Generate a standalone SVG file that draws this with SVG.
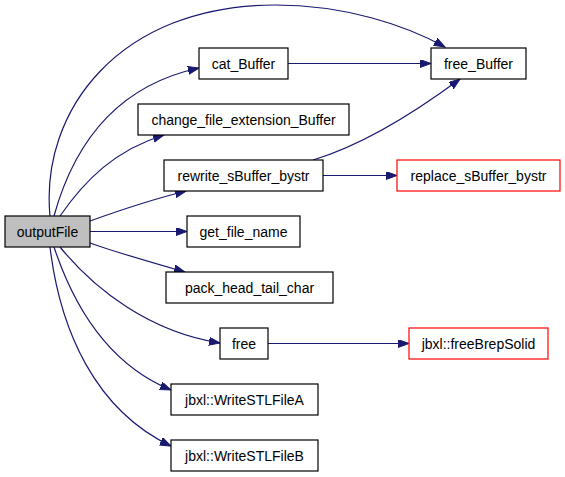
<svg xmlns="http://www.w3.org/2000/svg" width="565" height="477" viewBox="0 0 565 477">
<defs>
<style>
.n rect{fill:#fff;stroke:#000;stroke-width:1.2}
.n.root rect{fill:#bfbfbf}
.n.red rect{stroke:#ff0000}
.n text{font-family:"Liberation Sans",Arial,Helvetica,sans-serif;font-size:14px;fill:#000;text-anchor:middle}
.e path{fill:none;stroke:#191970;stroke-width:1.2;marker-end:url(#ah)}
</style>
<marker id="ah" markerUnits="userSpaceOnUse" markerWidth="12" markerHeight="9" refX="11" refY="4" orient="auto">
<path d="M0,0 L11,4 L0,8 z" fill="#191970" stroke="#191970" stroke-width="1"/>
</marker>
</defs>
<rect width="565" height="477" fill="#fff"/>
<g id="edges" class="e">
<path d="M50,216 C40,110 120,5 275,5 C345,5 405,25 445,47"/>
<path d="M54,216 C75,140 120,85 199,68"/>
<path d="M60,216 C85,180 115,150 164,135"/>
<path d="M90,221 C115,212 150,200 186,191"/>
<path d="M90,231.5 L187,231.5"/>
<path d="M90,243 C115,252 150,262 185,272"/>
<path d="M60,247 C95,290 150,332 220,343"/>
<path d="M54,247 C75,310 110,365 171,390"/>
<path d="M50,247 C60,330 95,410 171,446"/>
<path d="M288,63.5 L431,63.5"/>
<path d="M313,160 C360,146 410,116 460,79"/>
<path d="M323,175.5 L397,175.5"/>
<path d="M268,343.5 L409,343.5"/>
</g>
<g id="outputFile" class="n root"><rect x="5" y="216" width="85" height="31"/><text x="47.5" y="236.5">outputFile</text></g>
<g id="cat_Buffer" class="n"><rect x="199" y="48" width="89" height="31"/><text x="243.5" y="68.5">cat_Buffer</text></g>
<g id="free_Buffer" class="n"><rect x="431" y="48" width="95" height="31"/><text x="478.5" y="68.5">free_Buffer</text></g>
<g id="change_file_extension_Buffer" class="n"><rect x="138" y="104" width="211" height="31"/><text x="243.5" y="124.5">change_file_extension_Buffer</text></g>
<g id="rewrite_sBuffer_bystr" class="n"><rect x="164" y="160" width="159" height="31"/><text x="243.5" y="180.5">rewrite_sBuffer_bystr</text></g>
<g id="replace_sBuffer_bystr" class="n red"><rect x="397" y="160" width="163" height="31"/><text x="478.5" y="180.5">replace_sBuffer_bystr</text></g>
<g id="get_file_name" class="n"><rect x="187" y="216" width="113" height="31"/><text x="243.5" y="236.5">get_file_name</text></g>
<g id="pack_head_tail_char" class="n"><rect x="166" y="272" width="167" height="31"/><text x="249.5" y="292.5">pack_head_tail_char</text></g>
<g id="free" class="n"><rect x="220" y="328" width="48" height="31"/><text x="244" y="348.5">free</text></g>
<g id="freeBrepSolid" class="n red"><rect x="409" y="328" width="139" height="31"/><text x="478.5" y="348.5">jbxl::freeBrepSolid</text></g>
<g id="WriteSTLFileA" class="n"><rect x="171" y="384" width="147" height="31"/><text x="244.5" y="404.5">jbxl::WriteSTLFileA</text></g>
<g id="WriteSTLFileB" class="n"><rect x="171" y="440" width="147" height="31"/><text x="244.5" y="460.5">jbxl::WriteSTLFileB</text></g>
</svg>
